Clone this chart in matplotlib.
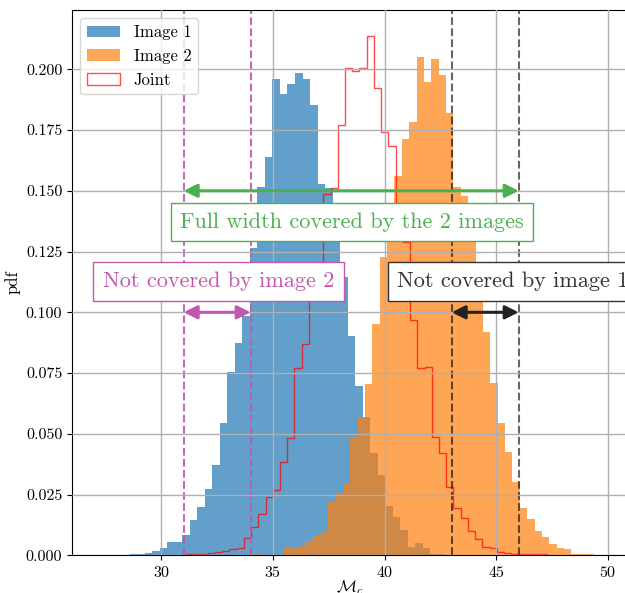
import numpy as np
import matplotlib
matplotlib.use("Agg")
import matplotlib.pyplot as plt

plt.rcParams["font.family"] = "serif"
plt.rcParams["font.serif"] = ["cmr10"]
plt.rcParams["mathtext.fontset"] = "cm"
plt.rcParams["axes.formatter.use_mathtext"] = True
plt.rcParams["axes.unicode_minus"] = False

# histogram heights (pdf per bin)
img1_start, img1_width = 28.58, 0.3366
img1_pdf = [0.0004, 0.0004, 0.0008, 0.0019, 0.0030, 0.0053, 0.0053, 0.0083,
            0.0145, 0.0199, 0.0272, 0.0372, 0.0546, 0.0754, 0.0872, 0.0986,
            0.1263, 0.1517, 0.1640, 0.1960, 0.1900, 0.1940, 0.1983, 0.1961,
            0.1852, 0.1528, 0.1510, 0.1370, 0.1145, 0.0902, 0.0697, 0.0568,
            0.0420, 0.0330, 0.0201, 0.0159, 0.0104, 0.0035, 0.0049, 0.0029,
            0.0005, 0.0004]

img2_start, img2_width = 34.167, 0.3301
img2_pdf = [0.0004, 0.0, 0.0, 0.0, 0.0031, 0.0031, 0.0040, 0.0057,
            0.0080, 0.0099, 0.0221, 0.0255, 0.0294, 0.0486, 0.0568, 0.0704,
            0.0952, 0.1226, 0.1390, 0.1562, 0.1713, 0.1784, 0.2052, 0.1949,
            0.2041, 0.1977, 0.1821, 0.1517, 0.1478, 0.1380, 0.1130, 0.0920,
            0.0708, 0.0543, 0.0426, 0.0303, 0.0194, 0.0148, 0.0100, 0.0076,
            0.0048, 0.0028, 0.0024, 0.0005, 0.0005, 0.0004]

joint_start, joint_width = 31.106, 0.3236
joint_pdf = [0.0004, 0.0004, 0.0004, 0.0008, 0.0012, 0.0019, 0.0025, 0.0031,
             0.0071, 0.0116, 0.0169, 0.0240, 0.0269, 0.0383, 0.0481, 0.0769,
             0.0870, 0.1100, 0.1170, 0.1487, 0.1510, 0.1771, 0.2007, 0.1993,
             0.2004, 0.2137, 0.1922, 0.1742, 0.1684, 0.1298, 0.1290, 0.0968,
             0.0772, 0.0774, 0.0488, 0.0420, 0.0280, 0.0193, 0.0152, 0.0101,
             0.0066, 0.0035, 0.0028, 0.0012, 0.0008, 0.0004, 0.0004, 0.0004,
             0.0004, 0.0004]

# interval bounds
full_lo, full_hi = 31, 46
img2_lo, img2_hi = 31, 34
img1_lo, img1_hi = 43, 46

magenta = "#c258ad"
green = "#4caf50"


def edges(start, width, n):
    return start + width * np.arange(n + 1)


fig = plt.figure(figsize=(6.25, 5.93), dpi=100)
ax = fig.add_axes([72 / 625, 37.7 / 593, 555 / 625, 545.3 / 593])

e1 = edges(img1_start, img1_width, len(img1_pdf))
e2 = edges(img2_start, img2_width, len(img2_pdf))
ej = edges(joint_start, joint_width, len(joint_pdf))
ax.hist(e1[:-1], bins=e1, weights=img1_pdf, histtype="stepfilled",
        alpha=0.7, color="C0", label="Image 1")
ax.hist(e2[:-1], bins=e2, weights=img2_pdf, histtype="stepfilled",
        alpha=0.7, color="C1", label="Image 2")
ax.hist(ej[:-1], bins=ej, weights=joint_pdf, histtype="step",
        alpha=0.7, color="red", lw=1, label="Joint")

for x in (img2_lo, img2_hi):
    ax.axvline(x, color=magenta, ls="--", lw=1.5, alpha=0.9)
for x in (img1_lo, img1_hi):
    ax.axvline(x, color="black", ls="--", lw=1.5, alpha=0.6)

arrow = dict(arrowstyle="<|-|>", lw=2.2, mutation_scale=20, shrinkA=0, shrinkB=0)
ax.annotate("", xy=(full_lo, 0.15), xytext=(full_hi, 0.15),
            arrowprops=dict(arrow, color=green))
ax.annotate("", xy=(img2_lo, 0.1), xytext=(img2_hi, 0.1),
            arrowprops=dict(arrow, color=magenta))
ax.annotate("", xy=(img1_lo, 0.1), xytext=(img1_hi, 0.1),
            arrowprops=dict(arrow, color="#222222"))

box = "square,pad=0.42"
ax.text(38.54, 0.1370, "Full width covered by the 2 images",
        color=green, fontsize=16, ha="center", va="center",
        bbox=dict(boxstyle=box, fc="white", ec=green))
ax.text(32.56, 0.1127, "Not covered by image 2",
        color=magenta, fontsize=16, ha="center", va="center",
        bbox=dict(boxstyle=box, fc="white", ec=magenta))
ax.text(40.55, 0.1127, "Not covered by image 1",
        color="#333333", fontsize=16, ha="left", va="center",
        bbox=dict(boxstyle=box, fc="white", ec="#333333"))

ax.set_xlim(26.0, 50.85)
ax.set_ylim(0, 0.2244)
ax.set_xticks([30, 35, 40, 45, 50])
ax.set_yticks(np.arange(0, 0.2001, 0.025))
ax.yaxis.set_major_formatter(matplotlib.ticker.FormatStrFormatter("%.3f"))
ax.tick_params(labelsize=11.5)
ax.grid(True, color="#b0b0b0", lw=1)
ax.set_axisbelow(False)
ax.set_xlabel(r"$\mathcal{M}_c$", fontsize=12, labelpad=-1)
ax.set_ylabel("pdf", fontsize=12)
ax.legend(loc="upper left", fontsize=12)

fig.savefig("out.png", dpi=100)
